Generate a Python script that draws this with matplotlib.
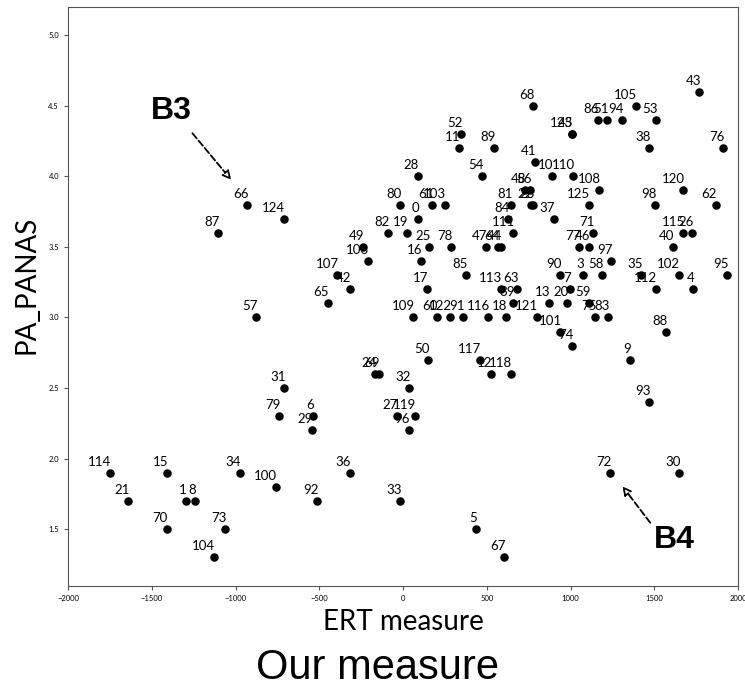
import numpy as np
import matplotlib.pyplot as plt

# participant ids, ERT measure (x) and PA_PANAS (y)
ids = [66, 124, 87, 57, 65, 107, 42, 49, 106, 82,
       80, 19, 0, 28, 61, 103, 25, 16, 78, 17,
       109, 60, 122, 91, 116, 18, 121, 101, 74, 85,
       113, 63, 39, 47, 64, 44, 111, 84, 81, 23,
       22, 37, 48, 56, 54, 10, 110, 41, 52, 11,
       89, 68, 123, 45, 43, 105, 53, 86, 51, 94,
       38, 76, 108, 120, 125, 98, 62, 71, 77, 46,
       97, 3, 58, 35, 112, 102, 4, 95, 40, 115,
       26, 90, 7, 13, 20, 59, 75, 83, 88, 9,
       93, 72, 30, 5, 67, 50, 117, 12, 118, 32,
       24, 69, 27, 119, 96, 1, 8, 114, 21, 15,
       70, 73, 104, 34, 100, 92, 36, 33, 31, 79,
       6, 29]
ert = [-932, -711, -1105, -878, -450, -394, -317, -239, -209, -91,
       -18, 22, 91, 88, 175, 251, 157, 106, 287, 142,
       62, 201, 281, 360, 510, 615, 799, 938, 1011, 376,
       584, 683, 659, 496, 569, 584, 659, 629, 645, 777,
       765, 899, 729, 759, 474, 888, 1016, 789, 346, 333,
       545, 778, 1008, 1010, 1770, 1390, 1513, 1163, 1220, 1308,
       1470, 1913, 1171, 1674, 1109, 1504, 1866, 1137, 1051, 1113,
       1241, 1073, 1191, 1422, 1510, 1645, 1732, 1934, 1613, 1674,
       1725, 938, 995, 874, 978, 1113, 1145, 1226, 1569, 1354,
       1468, 1238, 1647, 436, 603, 151, 460, 524, 645, 36,
       -165, -145, -38, 72, 34, -1298, -1243, -1750, -1641, -1408,
       -1412, -1061, -1129, -976, -761, -512, -317, -15, -709, -741,
       -540, -544]
panas = [3.8, 3.7, 3.6, 3.0, 3.1, 3.3, 3.2, 3.5, 3.4, 3.6,
         3.8, 3.6, 3.7, 4.0, 3.8, 3.8, 3.5, 3.4, 3.5, 3.2,
         3.0, 3.0, 3.0, 3.0, 3.0, 3.0, 3.0, 2.9, 2.8, 3.3,
         3.2, 3.2, 3.1, 3.5, 3.5, 3.5, 3.6, 3.7, 3.8, 3.8,
         3.8, 3.7, 3.9, 3.9, 4.0, 4.0, 4.0, 4.1, 4.3, 4.2,
         4.2, 4.5, 4.3, 4.3, 4.6, 4.5, 4.4, 4.4, 4.4, 4.4,
         4.2, 4.2, 3.9, 3.9, 3.8, 3.8, 3.8, 3.6, 3.5, 3.5,
         3.4, 3.3, 3.3, 3.3, 3.2, 3.3, 3.2, 3.3, 3.5, 3.6,
         3.6, 3.3, 3.2, 3.1, 3.1, 3.1, 3.0, 3.0, 2.9, 2.7,
         2.4, 1.9, 1.9, 1.5, 1.3, 2.7, 2.7, 2.6, 2.6, 2.5,
         2.6, 2.6, 2.3, 2.3, 2.2, 1.7, 1.7, 1.9, 1.7, 1.9,
         1.5, 1.5, 1.3, 1.9, 1.8, 1.7, 1.9, 1.7, 2.5, 2.3,
         2.3, 2.2]

lab_font = 'Lato'

fig = plt.figure(figsize=(7.45, 6.89), dpi=100)
ax = fig.add_axes([0.0913, 0.150, 0.8993, 0.840])

ax.scatter(ert, panas, s=26, c='black', zorder=3)
for i, xv, yv in zip(ids, ert, panas):
    ax.annotate(str(i), (xv, yv), xytext=(1, 5), textcoords='offset points',
                ha='right', va='baseline', fontsize=9.5, family=lab_font)

ax.set_xlim(-2000, 2000)
ax.set_ylim(1.1, 5.2)
ax.set_xticks(np.arange(-2000, 2001, 500))
ax.set_yticks(np.arange(1.5, 5.01, 0.5))
ax.set_yticklabels(['%.1f' % v for v in np.arange(1.5, 5.01, 0.5)])
ax.tick_params(labelsize=5.5, length=3, color='#555555')
for t in ax.get_xticklabels() + ax.get_yticklabels():
    t.set_family(lab_font)
for s in ax.spines.values():
    s.set_color('#555555')

ax.set_xlabel('ERT measure', fontsize=20, family=lab_font, labelpad=5)
ax.set_ylabel('PA_PANAS', fontsize=20, family=lab_font)
ax.yaxis.set_label_coords(-0.042, 0.52)

# B3 / B4 call-outs
arrow_kw = dict(arrowstyle='-|>', ls='--', lw=1.3, edgecolor='black',
                facecolor='white', mutation_scale=13)
ax.text(-1386, 4.46, 'B3', fontsize=23, fontweight='bold',
        family='Liberation Sans', ha='center', va='center')
ax.annotate('', xy=(-1015, 3.96), xytext=(-1268, 4.32), arrowprops=arrow_kw)
ax.text(1619, 1.424, 'B4', fontsize=23, fontweight='bold',
        family='Liberation Sans', ha='center', va='center')
ax.annotate('', xy=(1300, 1.82), xytext=(1486, 1.53), arrowprops=arrow_kw)

fig.text(378 / 745, 1 - 668 / 689, 'Our measure', fontsize=30,
         family='Liberation Sans', ha='center', va='center')

plt.savefig('out.png', dpi=100)
